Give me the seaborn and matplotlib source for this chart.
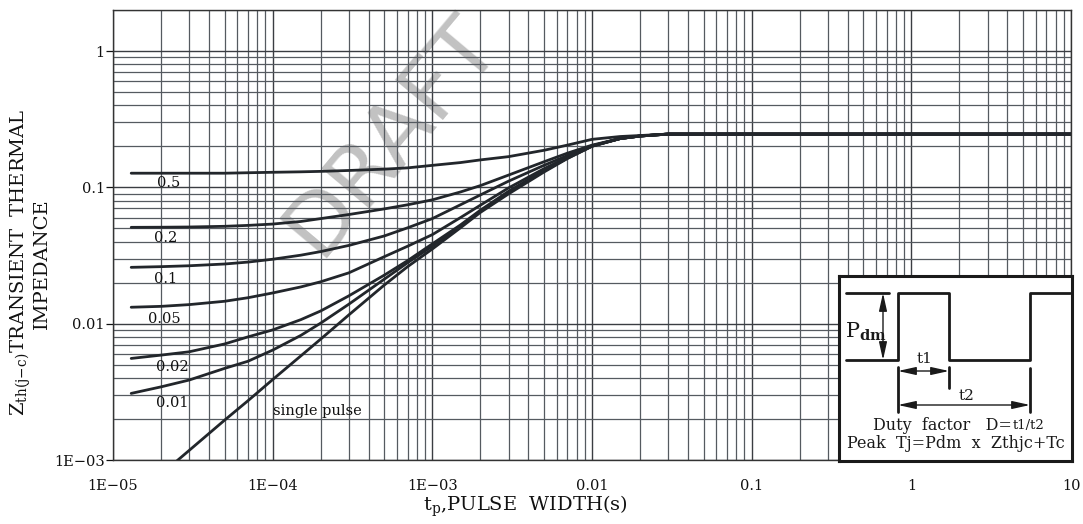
import numpy as np
import pandas as pd
import matplotlib
matplotlib.use("Agg")
import matplotlib.pyplot as plt
import seaborn as sns
from matplotlib.ticker import LogLocator, NullFormatter

# ---------------- data ----------------
t_duty = [1.3e-5, 2e-5, 3e-5, 5e-5, 7e-5, 1e-4, 1.5e-4, 2e-4, 3e-4, 5e-4, 7e-4,
          1e-3, 1.5e-3, 2e-3, 3e-3, 5e-3, 7e-3, 1e-2, 1.5e-2, 2e-2, 3e-2, 10]
z_d050 = [0.127, 0.127, 0.127, 0.127, 0.128, 0.129, 0.130, 0.131, 0.133, 0.136, 0.139,
          0.145, 0.152, 0.159, 0.168, 0.187, 0.204, 0.225, 0.236, 0.240, 0.246, 0.246]
z_d020 = [0.0509, 0.0510, 0.0512, 0.0518, 0.0526, 0.0538, 0.0562, 0.0590, 0.0632, 0.0695, 0.0745,
          0.0810, 0.0925, 0.103, 0.123, 0.154, 0.178, 0.204, 0.228, 0.238, 0.246, 0.246]
z_d010 = [0.0259, 0.0262, 0.0266, 0.0274, 0.0283, 0.0297, 0.0318, 0.0338, 0.0375, 0.0440, 0.0505,
          0.0590, 0.0745, 0.0880, 0.111, 0.145, 0.171, 0.202, 0.228, 0.238, 0.246, 0.246]
z_d005 = [0.0132, 0.0134, 0.0138, 0.0146, 0.0155, 0.0168, 0.0186, 0.0203, 0.0236, 0.0310, 0.0370,
          0.0450, 0.0600, 0.0740, 0.0990, 0.137, 0.166, 0.201, 0.228, 0.238, 0.246, 0.246]
z_d002 = [0.00556, 0.00588, 0.00622, 0.00710, 0.0080, 0.0090, 0.0107, 0.0124, 0.0160, 0.0227, 0.0290,
          0.0385, 0.0530, 0.0680, 0.0935, 0.133, 0.164, 0.201, 0.228, 0.238, 0.246, 0.246]
z_d001 = [0.00308, 0.00344, 0.00386, 0.00470, 0.0053, 0.0064, 0.0082, 0.0101, 0.0139, 0.0212, 0.0280,
          0.0370, 0.0520, 0.0670, 0.0920, 0.1315, 0.1635, 0.2005, 0.228, 0.238, 0.246, 0.246]
t_single = [2.5e-5, 5e-5, 7e-5, 1e-4, 1.5e-4, 2e-4, 3e-4, 5e-4, 7e-4, 1e-3,
            1.5e-3, 2e-3, 3e-3, 5e-3, 7e-3, 1e-2, 1.5e-2, 2e-2, 3e-2, 10]
z_single = [0.00098, 0.00196, 0.00272, 0.00389, 0.0058, 0.00771, 0.0116, 0.0192, 0.0262, 0.0353,
            0.0505, 0.0655, 0.0895, 0.1295, 0.1625, 0.200, 0.228, 0.238, 0.246, 0.246]

duty_labels = ["0.5", "0.2", "0.1", "0.05", "0.02", "0.01"]
single_label = "single pulse"
x_ticks = [1e-5, 1e-4, 1e-3, 1e-2, 1e-1, 1, 10]
x_tick_labels = ["1E\u221205", "1E\u221204", "1E\u221203", "0.01", "0.1", "1", "10"]
y_ticks = [1e-3, 1e-2, 1e-1, 1]
y_tick_labels = ["1E\u221203", "0.01", "0.1", "1"]

frames = []
for lab, z in zip(duty_labels, [z_d050, z_d020, z_d010, z_d005, z_d002, z_d001]):
    frames.append(pd.DataFrame({"t": t_duty, "Z": z, "curve": lab}))
frames.append(pd.DataFrame({"t": t_single, "Z": z_single, "curve": single_label}))
df = pd.concat(frames, ignore_index=True)

# ---------------- styling ----------------
sns.set_theme(style="white")
plt.rcParams["font.family"] = ["DejaVu Serif"]
plt.rcParams["mathtext.fontset"] = "dejavuserif"

W, H = 1083, 524
fig = plt.figure(figsize=(W / 100, H / 100), dpi=100)
fig.patch.set_facecolor("white")

def fx(px):
    return px / W

def fy(py):
    return 1 - py / H

ax = fig.add_axes([fx(113), fy(460), fx(1071) - fx(113), fy(10) - fy(460)])
ax.set_xscale("log")
ax.set_yscale("log")
ax.set_xlim(1e-5, 10)
ax.set_ylim(1e-3, 2)
ax.set_axisbelow(True)

line_col = "#22262b"
sns.lineplot(data=df, x="t", y="Z", hue="curve", units="curve", estimator=None,
             sort=False, palette=[line_col] * 7, legend=False, ax=ax,
             linewidth=2.0)

grid_col = "#3a3d42"
ax.xaxis.set_minor_locator(LogLocator(base=10, subs=np.arange(2, 10), numticks=50))
ax.yaxis.set_minor_locator(LogLocator(base=10, subs=np.arange(2, 10), numticks=50))
ax.xaxis.set_minor_formatter(NullFormatter())
ax.yaxis.set_minor_formatter(NullFormatter())
ax.grid(True, which="major", color=grid_col, linewidth=1.0)
ax.grid(True, which="minor", color="#555a60", linewidth=0.9)

ax.set_xticks(x_ticks)
ax.set_xticklabels(x_tick_labels)
ax.set_yticks(y_ticks)
ax.set_yticklabels(y_tick_labels)
ax.tick_params(axis="x", which="both", length=0, pad=14, labelsize=10.5, colors="#111")
ax.tick_params(axis="y", which="major", length=5, width=0.9, pad=1, labelsize=10.5,
               colors="#111", left=True)
ax.tick_params(axis="y", which="minor", length=0)
for s in ax.spines.values():
    s.set_color("#333")
    s.set_linewidth(1.0)
ax.set_xlabel("")
ax.set_ylabel("")

# curve labels
lab_pos = {"0.5": (2.24e-5, 0.1075), "0.2": (2.14e-5, 0.0425), "0.1": (2.14e-5, 0.0212),
           "0.05": (2.11e-5, 0.0108), "0.02": (2.34e-5, 0.00481), "0.01": (2.34e-5, 0.00261)}
for lab in duty_labels:
    x, y = lab_pos[lab]
    ax.text(x, y, lab, ha="center", va="center", fontsize=10.5, color="#111", zorder=5)
ax.text(1.91e-4, 0.00229, single_label, ha="center", va="center", fontsize=10.5,
        color="#111", zorder=5)

# watermark (behind the grid)
ax.text(fx(392), fy(135), "DRAFT", transform=fig.transFigure, rotation=50, fontsize=62,
        family="DejaVu Sans", color="#c2c2c2", ha="center", va="center",
        zorder=0.2, clip_on=False)

# axis titles
fig.text(fx(525), fy(506), r"$\mathregular{t_p}$,PULSE  WIDTH(s)", ha="center",
         va="center", fontsize=14, color="#111")
fig.text(fx(21), fy(262), r"$\mathregular{Z_{th(j\!-\!c)}}$TRANSIENT  THERMAL",
         rotation=90, ha="center", va="center", fontsize=14, color="#111")
fig.text(fx(42), fy(264), "IMPEDANCE", rotation=90, ha="center", va="center",
         fontsize=14, color="#111")

# ---------------- inset schematic ----------------
ins = fig.add_axes([fx(839), fy(461), fx(1072) - fx(839), fy(276) - fy(461)])
ins.set_xlim(839, 1072)
ins.set_ylim(461, 276)
ins.set_xticks([])
ins.set_yticks([])
ins.set_facecolor("white")
for s in ins.spines.values():
    s.set_color("#1a1a1a")
    s.set_linewidth(2.2)
k = "#1a1a1a"
ins.plot([846, 889], [293, 293], color=k, lw=2)
ins.plot([846, 898, 898, 949, 949, 1030, 1030, 1070],
         [360, 360, 293, 293, 360, 360, 293, 293], color=k, lw=2)
ins.plot([898, 898], [367, 412], color=k, lw=2)
ins.plot([949, 949], [367, 388], color=k, lw=2)
ins.plot([1030, 1030], [368, 412], color=k, lw=2)
arr = dict(arrowstyle="<|-|>,head_length=0.9,head_width=0.2", color=k, lw=1,
           shrinkA=0, shrinkB=0)
ins.annotate("", xy=(883, 293), xytext=(883, 360), arrowprops=arr)
ins.annotate("", xy=(898, 371), xytext=(949, 371), arrowprops=arr)
ins.annotate("", xy=(898, 405), xytext=(1030, 405), arrowprops=arr)
ins.text(845, 332, r"$\mathregular{P}_{\mathbf{dm}}$", fontsize=15, ha="left",
         va="center", color=k)
ins.text(925, 359, "t1", fontsize=11, ha="center", va="center", color=k)
ins.text(967, 396, "t2", fontsize=11, ha="center", va="center", color=k)
ins.text(1012, 425, "Duty  factor   D=", fontsize=11.5, ha="right", va="center", color=k)
ins.text(1013, 425, "t1/t2", fontsize=9.5, ha="left", va="center", color=k)
ins.text(956, 443, "Peak  Tj=Pdm  x  Zthjc+Tc", fontsize=11.5, ha="center",
         va="center", color=k)

fig.savefig("out.png", dpi=100, facecolor="white")
